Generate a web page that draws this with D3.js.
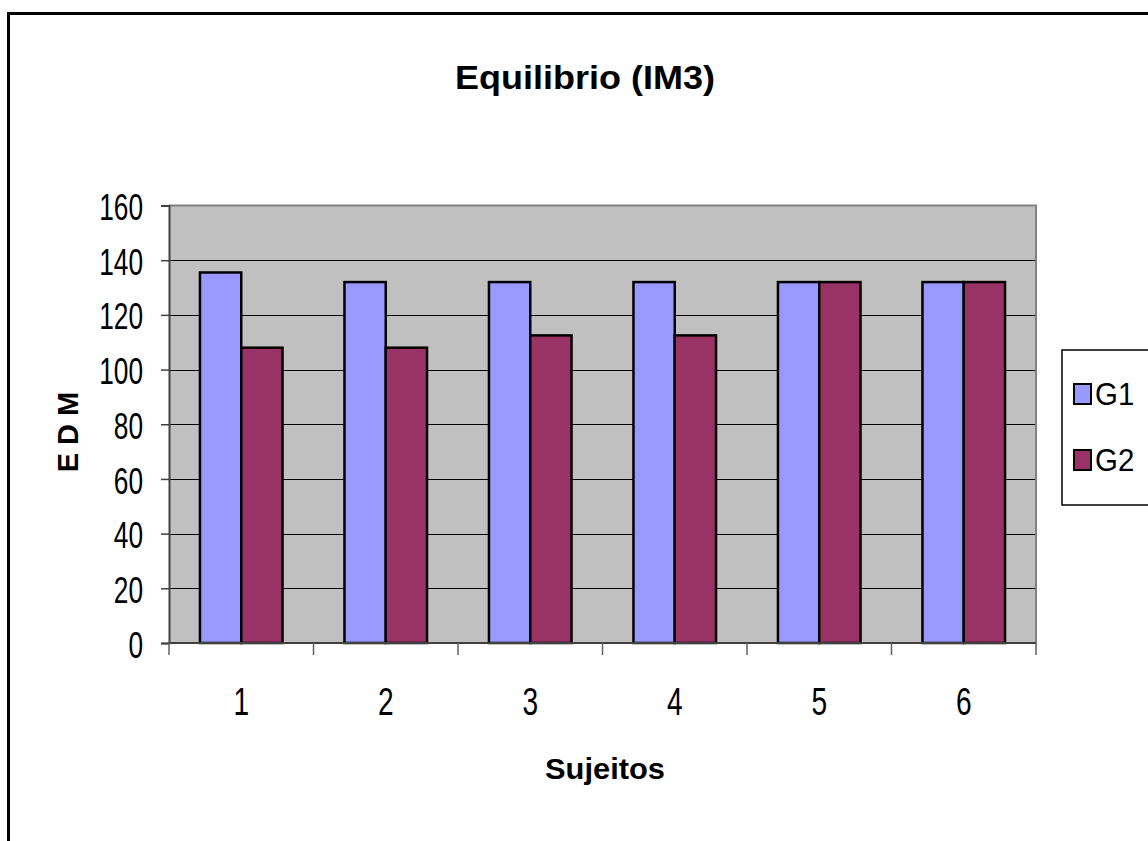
<!DOCTYPE html>
<html>
<head>
<meta charset="utf-8">
<script src="https://cdn.jsdelivr.net/npm/d3@7/dist/d3.min.js"></script>
<style>
  html, body { margin: 0; padding: 0; background: #fff; }
  svg { display: block; font-family: "Liberation Sans", Arial, sans-serif; }
</style>
</head>
<body>
<svg id="chart" width="1148" height="841"></svg>
<script>
// Chart data
const categories = ["1", "2", "3", "4", "5", "6"];
const seriesNames = ["G1", "G2"];
const g1Values = [135.5, 132, 132, 132, 132, 132];
const g2Values = [108, 108, 112.5, 112.5, 132, 132];
const yTicks = [0, 20, 40, 60, 80, 100, 120, 140, 160];
const seriesColors = ["#9999FF", "#993366"];

const svg = d3.select("#chart");
const plot = { left: 169, right: 1036, top: 205.5, bottom: 643 };

// Squeeze text horizontally so it keeps its height but reaches a given width
function fitWidth(sel, width) {
  sel.each(function () {
    const len = this.getComputedTextLength();
    const k = width / len;
    const x = +this.getAttribute("x") || 0;
    const t = this.getAttribute("transform") || "";
    this.setAttribute("transform", t + ` translate(${x},0) scale(${k},1) translate(${-x},0)`);
  });
}
function squeeze(sel, k) {
  sel.each(function () {
    const x = +this.getAttribute("x") || 0;
    this.setAttribute("transform", `translate(${x},0) scale(${k},1) translate(${-x},0)`);
  });
}

// Outer chart frame
svg.append("rect")
  .attr("x", 8.5).attr("y", 13.5).attr("width", 1200).attr("height", 900)
  .attr("fill", "#fff").attr("stroke", "#000").attr("stroke-width", 3);

const x0 = d3.scaleBand().domain(categories).range([plot.left, plot.right]);
const x1 = d3.scaleBand().domain(seriesNames).range([0, x0.bandwidth()]).paddingInner(0).paddingOuter(0.75);
const y = d3.scaleLinear().domain([0, 160]).range([plot.bottom, plot.top]);

// Plot area background
svg.append("rect")
  .attr("x", plot.left).attr("y", plot.top)
  .attr("width", plot.right - plot.left).attr("height", plot.bottom - plot.top)
  .attr("fill", "#C0C0C0");

// Gridlines
svg.append("g").selectAll("line").data(yTicks.filter(d => d > 0 && d < 160)).join("line")
  .attr("x1", plot.left).attr("x2", plot.right)
  .attr("y1", d => Math.round(y(d)) + 0.5).attr("y2", d => Math.round(y(d)) + 0.5)
  .attr("stroke", "#000").attr("stroke-width", 1);

// Plot border (top and right)
svg.append("path")
  .attr("d", `M${plot.left},${plot.top}H${plot.right}V${plot.bottom}`)
  .attr("fill", "none").attr("stroke", "#808080").attr("stroke-width", 2);

// Bars
const rows = categories.map((c, i) => ({ cat: c, vals: [g1Values[i], g2Values[i]] }));
const groups = svg.append("g").selectAll("g").data(rows).join("g")
  .attr("transform", d => `translate(${x0(d.cat)},0)`);
groups.selectAll("rect").data(d => d.vals.map((v, j) => ({ name: seriesNames[j], v, j }))).join("rect")
  .attr("x", d => x1(d.name))
  .attr("width", x1.bandwidth())
  .attr("y", d => y(d.v))
  .attr("height", d => y(0) - y(d.v))
  .attr("fill", d => seriesColors[d.j])
  .attr("stroke", "#000").attr("stroke-width", 2.5);

// Y axis
const yAxis = svg.append("g").attr("transform", `translate(${plot.left},0)`)
  .call(d3.axisLeft(y).tickValues(yTicks).tickSize(8).tickPadding(18).tickFormat(d3.format("d")));
yAxis.select(".domain").attr("stroke", "#404040").attr("stroke-width", 2);
yAxis.selectAll(".tick line").attr("stroke", "#404040").attr("stroke-width", 1.5);
yAxis.selectAll(".tick text")
  .attr("font-size", 37).attr("fill", "#000").attr("font-family", "Liberation Sans, Arial, sans-serif")
  .attr("dy", "0.38em")
  .call(squeeze, 0.71);

// X axis with ticks at category boundaries
const xAxisG = svg.append("g").attr("transform", `translate(0,${plot.bottom})`);
xAxisG.append("line")
  .attr("x1", plot.left).attr("x2", plot.right).attr("y1", 0).attr("y2", 0)
  .attr("stroke", "#404040").attr("stroke-width", 2);
const boundaries = categories.map(c => x0(c)).concat([x0(categories[categories.length - 1]) + x0.bandwidth()]);
xAxisG.selectAll("line.tk").data(boundaries).join("line").attr("class", "tk")
  .attr("x1", d => d).attr("x2", d => d).attr("y1", 0).attr("y2", 12)
  .attr("stroke", "#606060").attr("stroke-width", 1.5);
xAxisG.selectAll("text").data(categories).join("text")
  .attr("x", d => x0(d) + x0.bandwidth() / 2)
  .attr("y", 72)
  .attr("text-anchor", "middle")
  .attr("font-size", 38)
  .attr("fill", "#000")
  .text(d => d)
  .call(squeeze, 0.74);

// Title
svg.append("text")
  .attr("x", 585).attr("y", 89)
  .attr("text-anchor", "middle")
  .attr("font-size", 34).attr("font-weight", "bold")
  .text("Equilibrio (IM3)")
  .call(fitWidth, 260);

// Axis titles
svg.append("text")
  .attr("x", 605).attr("y", 779)
  .attr("text-anchor", "middle")
  .attr("font-size", 29).attr("font-weight", "bold")
  .text("Sujeitos")
  .call(fitWidth, 120);

svg.append("text")
  .attr("transform", "translate(78,432) rotate(-90)")
  .attr("text-anchor", "middle")
  .attr("font-size", 29).attr("font-weight", "bold")
  .text("E D M");

// Legend
const legend = svg.append("g");
legend.append("rect")
  .attr("x", 1062).attr("y", 350).attr("width", 120).attr("height", 155)
  .attr("fill", "#fff").attr("stroke", "#000").attr("stroke-width", 1.5);
const items = legend.selectAll("g.item").data(seriesNames).join("g").attr("class", "item")
  .attr("transform", (d, i) => `translate(0,${394 + i * 66})`);
items.append("rect")
  .attr("x", 1074).attr("y", -10).attr("width", 17).attr("height", 20)
  .attr("fill", (d, i) => seriesColors[i]).attr("stroke", "#000").attr("stroke-width", 2);
items.append("text")
  .attr("x", 1095).attr("y", 11)
  .attr("font-size", 31).attr("fill", "#000")
  .text(d => d)
  .call(squeeze, 0.95);
</script>
</body>
</html>
